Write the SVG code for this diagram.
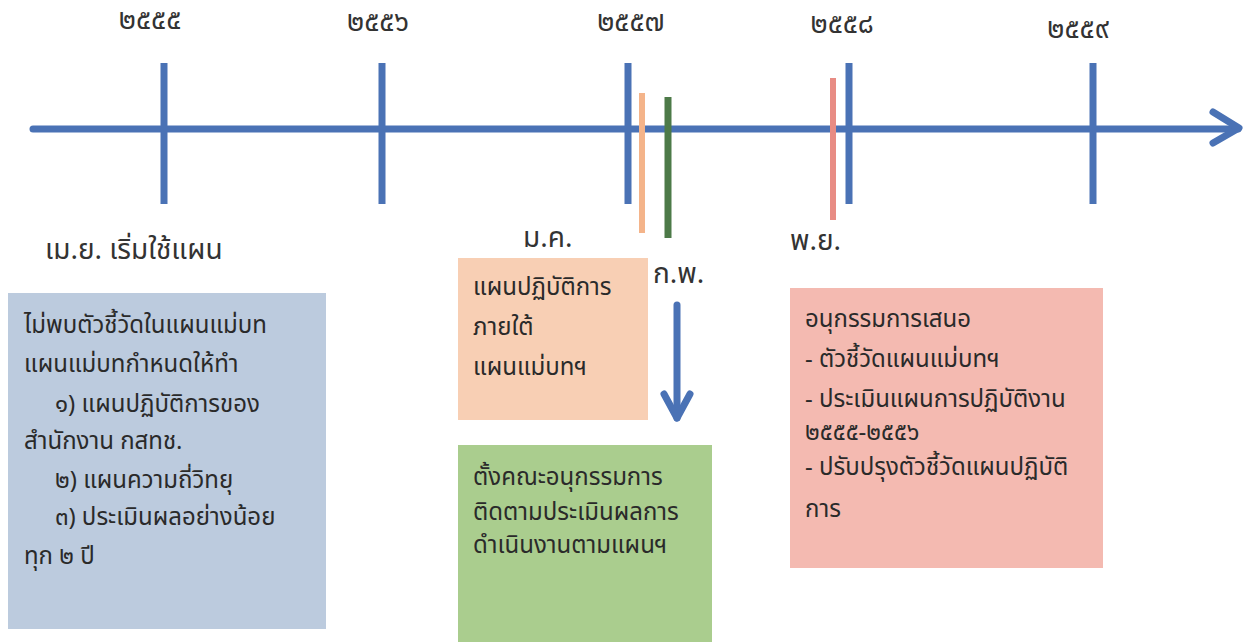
<svg xmlns="http://www.w3.org/2000/svg" width="1251" height="642" viewBox="0 0 1251 642">
<style>
.bg{fill:#ffffff}
.axis{stroke:#4a72b5;stroke-width:7;fill:none;stroke-linecap:round;stroke-linejoin:round}
.tick{stroke:#4a72b5;stroke-width:7}
.yr{font-family:"Noto Sans Thai","Noto Sans","DejaVu Sans",sans-serif;font-size:28px;fill:#333;text-anchor:middle}
.lbl{font-family:"Noto Sans Thai","Noto Sans","DejaVu Sans",sans-serif;font-size:28px;fill:#333}
.t{font-family:"Noto Sans Thai","Noto Sans","DejaVu Sans",sans-serif;font-size:24px;fill:#2a2a2a}
</style>
<rect class="bg" x="0" y="0" width="1251" height="642"/>
<g id="connectors">
<line class="axis" x1="33" y1="129" x2="1238" y2="129"/>
<polyline class="axis" points="1213,112 1239,128 1213,143"/>
<line class="tick" x1="164" y1="63" x2="164" y2="204"/>
<line class="tick" x1="382" y1="63" x2="382" y2="204"/>
<line class="tick" x1="628" y1="63" x2="628" y2="204"/>
<line class="tick" x1="849" y1="63" x2="849" y2="204"/>
<line class="tick" x1="1093" y1="63" x2="1093" y2="204"/>
<line stroke="#f4b48a" stroke-width="6" x1="642" y1="93" x2="642" y2="233"/>
<line stroke="#4d7a48" stroke-width="7" x1="668" y1="97" x2="668" y2="238"/>
<line stroke="#e88c84" stroke-width="6" x1="833" y1="78" x2="833" y2="220"/>
<line class="axis" x1="677" y1="305" x2="677" y2="418"/>
<polyline class="axis" points="664,394 677,418 690,394"/>
</g>
<g id="years">
<text class="yr" x="150" y="29">๒๕๕๕</text>
<text class="yr" x="378" y="31">๒๕๕๖</text>
<text class="yr" x="631" y="31">๒๕๕๗</text>
<text class="yr" x="842" y="33">๒๕๕๘</text>
<text class="yr" x="1078" y="38">๒๕๕๙</text>
</g>
<g id="node-apr">
<text class="lbl" x="45" y="259" font-size="29">เม.ย. เริ่มใช้แผน</text>
<rect x="8" y="293" width="318" height="336" fill="#bccbde"/>
<text class="t" x="24" y="333" font-size="23.5">ไม่พบตัวชี้วัดในแผนแม่บท</text>
<text class="t" x="24" y="372" font-size="23.5">แผนแม่บทกำหนดให้ทำ</text>
<text class="t" x="55" y="412" font-size="23.5">๑) แผนปฏิบัติการของ</text>
<text class="t" x="24" y="449" font-size="23.5">สำนักงาน กสทช.</text>
<text class="t" x="55" y="488" font-size="23.5">๒) แผนความถี่วิทยุ</text>
<text class="t" x="55" y="525" font-size="23.5">๓) ประเมินผลอย่างน้อย</text>
<text class="t" x="24" y="564" font-size="23.5">ทุก ๒ ปี</text>
</g>
<g id="node-jan">
<text class="lbl" x="523" y="247">ม.ค.</text>
<rect x="458" y="258" width="190" height="162" fill="#f8cfb4"/>
<text class="t" x="473" y="295">แผนปฏิบัติการ</text>
<text class="t" x="473" y="335">ภายใต้</text>
<text class="t" x="473" y="375">แผนแม่บทฯ</text>
</g>
<g id="node-feb">
<text class="lbl" x="653" y="283">ก.พ.</text>
<rect x="458" y="445" width="254" height="197" fill="#aacd8e"/>
<text class="t" x="473" y="485">ตั้งคณะอนุกรรมการ</text>
<text class="t" x="473" y="520">ติดตามประเมินผลการ</text>
<text class="t" x="473" y="553">ดำเนินงานตามแผนฯ</text>
</g>
<g id="node-nov">
<text class="lbl" x="790" y="250">พ.ย.</text>
<rect x="790" y="288" width="313" height="280" fill="#f4bab1"/>
<text class="t" x="805" y="327" font-size="24.5">อนุกรรมการเสนอ</text>
<text class="t" x="805" y="367" font-size="24.5">- ตัวชี้วัดแผนแม่บทฯ</text>
<text class="t" x="805" y="407" font-size="24.5">- ประเมินแผนการปฏิบัติงาน</text>
<text class="t" x="805" y="440" font-size="24.5">๒๕๕๕-๒๕๕๖</text>
<text class="t" x="805" y="475" font-size="24.5">- ปรับปรุงตัวชี้วัดแผนปฏิบัติ</text>
<text class="t" x="805" y="517" font-size="24.5">การ</text>
</g>
</svg>
